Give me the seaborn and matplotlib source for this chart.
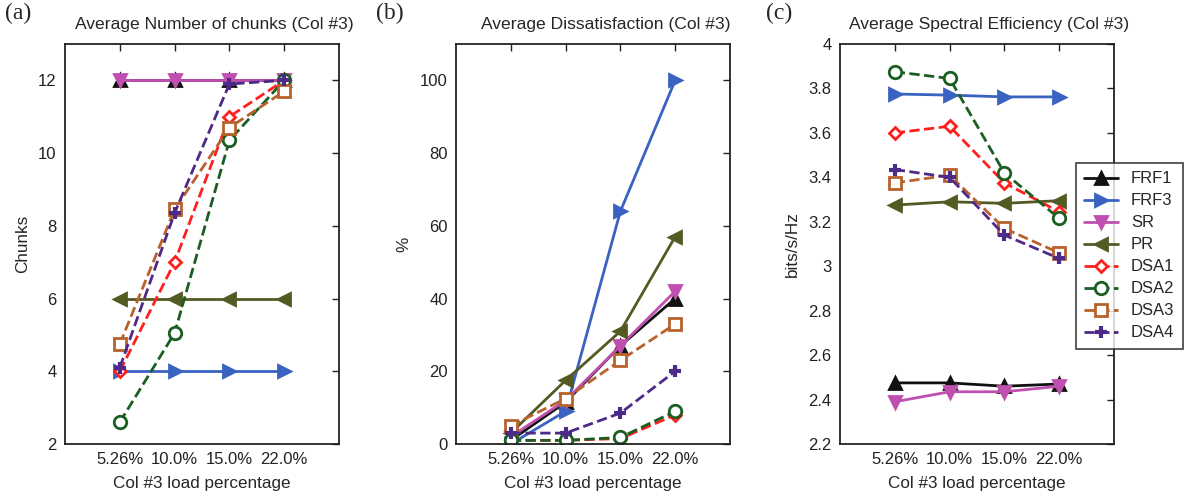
import numpy as np
import pandas as pd
import matplotlib
matplotlib.use('Agg')
import matplotlib.pyplot as plt
import seaborn as sns

# datos
cargas = ['5.26%', '10.0%', '15.0%', '22.0%']
esquemas = ['FRF1', 'FRF3', 'SR', 'PR', 'DSA1', 'DSA2', 'DSA3', 'DSA4']

chunks = {
    'FRF1': [12, 12, 12, 12],
    'FRF3': [4, 4, 4, 4],
    'SR':   [12, 12, 12, 12],
    'PR':   [6, 6, 6, 6],
    'DSA1': [4.0, 7.0, 11.0, 12.0],
    'DSA2': [2.6, 5.05, 10.35, 12.0],
    'DSA3': [4.75, 8.45, 10.7, 11.7],
    'DSA4': [4.1, 8.35, 11.9, 12.0],
}
insatisfaccion = {
    'FRF1': [1.0, 11.5, 27.0, 40.0],
    'FRF3': [0.0, 9.0, 64.0, 100.0],
    'SR':   [2.0, 12.0, 27.0, 42.0],
    'PR':   [3.0, 17.5, 31.0, 57.0],
    'DSA1': [1.0, 1.0, 1.5, 8.0],
    'DSA2': [1.0, 1.0, 1.8, 9.0],
    'DSA3': [5.0, 12.5, 23.0, 33.0],
    'DSA4': [3.0, 3.0, 8.5, 20.0],
}
eficiencia = {
    'FRF1': [2.475, 2.475, 2.46, 2.47],
    'FRF3': [3.775, 3.77, 3.762, 3.762],
    'SR':   [2.39, 2.435, 2.435, 2.46],
    'PR':   [3.275, 3.29, 3.283, 3.295],
    'DSA1': [3.60, 3.63, 3.375, 3.245],
    'DSA2': [3.875, 3.845, 3.42, 3.215],
    'DSA3': [3.375, 3.41, 3.17, 3.06],
    'DSA4': [3.435, 3.40, 3.14, 3.035],
}

estilos = {
    'FRF1': dict(color='#111111', marker='^', linestyle='-', mfc='#111111'),
    'FRF3': dict(color='#3a62c0', marker='>', linestyle='-', mfc='#3a62c0'),
    'SR':   dict(color='#c050b0', marker='v', linestyle='-', mfc='#c050b0'),
    'PR':   dict(color='#535a22', marker='<', linestyle='-', mfc='#535a22'),
    'DSA1': dict(color='#ff1f1f', marker='D', linestyle='--', mfc='white', ms=6),
    'DSA2': dict(color='#1b5e22', marker='o', linestyle='--', mfc='white'),
    'DSA3': dict(color='#b8612c', marker='s', linestyle='--', mfc='white'),
    'DSA4': dict(color='#4d2a88', marker='+', linestyle='--', mfc='#4d2a88', ms=9, mew=3),
}

sns.set_style('white')
plt.rcParams['font.family'] = ['Liberation Sans', 'DejaVu Sans']
plt.rcParams['font.size'] = 12

W, H = 1193, 496
fig = plt.figure(figsize=(W / 100, H / 100), dpi=100)


def panel(x0, datos, titulo, ylabel, ylim, yticks, letra, lx):
    ax = fig.add_axes([x0 / W, 52 / H, 274 / W, 400 / H])
    x = np.arange(1, len(cargas) + 1)
    for nombre in esquemas:
        st = dict(estilos[nombre])
        ms = st.pop('ms', 9)
        mew = st.pop('mew', 2)
        mfc = st.pop('mfc')
        sns.lineplot(x=x, y=datos[nombre], ax=ax, label=nombre, linewidth=2,
                     markersize=ms, markerfacecolor=mfc, markeredgecolor=st['color'],
                     markeredgewidth=mew, legend=False, **st)
    ax.set_xlim(0, 5)
    ax.set_ylim(*ylim)
    ax.set_xticks(x)
    ax.set_xticklabels(cargas)
    ax.set_yticks(yticks)
    ax.set_yticklabels([f'{v:g}' for v in yticks])
    ax.tick_params(direction='in', length=5, width=1, top=True, right=True,
                   labelsize=12, colors='#222222', pad=6)
    for s in ax.spines.values():
        s.set_visible(True)
        s.set_color('#222222')
        s.set_linewidth(1.3)
    ax.set_title(titulo, fontsize=12.6, x=0.545, pad=11)
    ax.set_xlabel('Col #3 load percentage', fontsize=12.3, labelpad=6)
    ax.set_ylabel(ylabel, fontsize=12.3, labelpad=6)
    fig.text(lx / W, 1 - 3 / H, letra, ha='left', va='top', fontsize=17,
             family=['Liberation Serif', 'DejaVu Serif'])
    return ax


panel(65, chunks, 'Average Number of chunks (Col #3)', 'Chunks',
      (2, 13), [2, 4, 6, 8, 10, 12], '(a)', 5)
panel(456, insatisfaccion, 'Average Dissatisfaction (Col #3)', '%',
      (0, 110), [0, 20, 40, 60, 80, 100], '(b)', 376)
ax_c = panel(840, eficiencia, 'Average Spectral Efficiency (Col #3)', 'bits/s/Hz',
             (2.2, 4.0), [2.2, 2.4, 2.6, 2.8, 3.0, 3.2, 3.4, 3.6, 3.8, 4.0],
             '(c)', 766)

handles, labels = ax_c.get_legend_handles_labels()
leg = fig.legend(handles, labels, loc='upper left',
                 bbox_to_anchor=(1076 / W, 1 - 163 / H), frameon=True,
                 fancybox=False, edgecolor='#222222', fontsize=12,
                 handlelength=2.0, labelspacing=0.42, handletextpad=0.8,
                 borderpad=0.5, borderaxespad=0)
leg.get_frame().set_linewidth(1.3)

fig.savefig('out.png', dpi=100, facecolor='white')
